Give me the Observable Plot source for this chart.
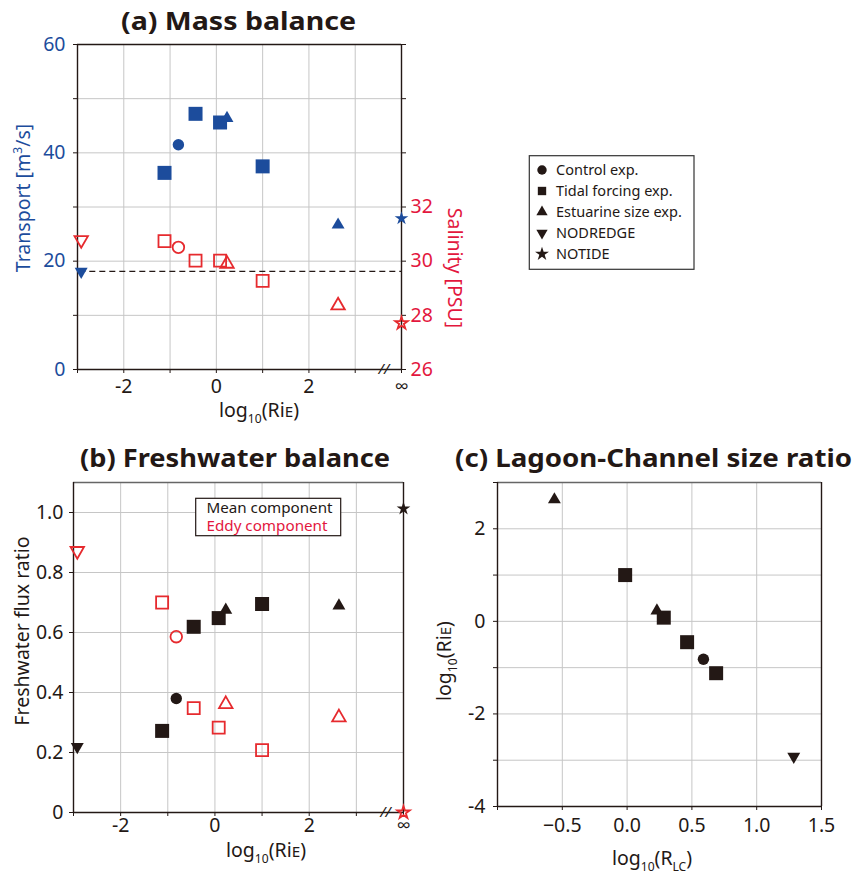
<!DOCTYPE html>
<html><head><meta charset="utf-8">
<script src="https://cdn.jsdelivr.net/npm/d3@7"></script>
<script src="https://cdn.jsdelivr.net/npm/@observablehq/plot@0.6"></script>
<style>
body{margin:0;background:#fff;}
#wrap{position:relative;width:861px;height:878px;background:#fff;overflow:hidden;}
#wrap svg{position:absolute;}
</style></head><body><div id="wrap"></div>
<script>
// ---------------- data ----------------
const experiments = ["NODREDGE","Tidal forcing exp.","Control exp.","Tidal forcing exp.","Tidal forcing exp.","Estuarine size exp.","Tidal forcing exp.","Estuarine size exp.","NOTIDE"];
const logRiE    = [-2.92, -1.12, -0.82, -0.45, 0.08, 0.23, 1.0, 2.63, Infinity];
const transport = [18.1, 36.3, 41.5, 47.2, 45.6, 46.4, 37.5, 26.7, 27.9];
const salinity  = [30.78, 30.74, 30.51, 30.02, 30.02, 29.90, 29.27, 28.36, 27.71];
const meanFlux  = [0.219, 0.272, 0.38, 0.619, 0.648, 0.675, 0.695, 0.689, 1.013];
const eddyFlux  = [0.872, 0.70, 0.586, 0.348, 0.283, 0.361, 0.208, 0.317, 0.0];
const logRLC    = [1.286, 0.687, 0.589, 0.463, 0.283, 0.23, -0.015, -0.561, null];
const dashedTransport = [18.1];
const legendNames = ["Control exp.","Tidal forcing exp.","Estuarine size exp.","NODREDGE","NOTIDE"];
const fluxLegend = ["Mean component","Eddy component"];
const infPos = 4; // position of "∞" on the log10(RiE) axis
const ticksRiE = [-3,-2,-1,0,1,2,3,4];
const ticksTransport = [0,10,20,30,40,50,60];
const ticksSalinity = [26,28,30,32,34,36,38];
const ticksFlux = [0,0.2,0.4,0.6,0.8,1.0];
const ticksRLC = [-1,-0.5,0,0.5,1.0,1.5];
const ticksRiEc = [-4,-3,-2,-1,0,1,2,3];

// ---------------- styles ----------------
const BLUE = "#1c4c9c", RED = "#e62a2e", REDTXT = "#e3173e", BLK = "#231815", GRID = "#c6c6c6";
const FONT = "'Noto Sans', 'Open Sans', sans-serif";
const TICKFS = 19.5;
const sq3 = Math.sqrt(3);
const downTriangle = {draw(ctx, size) {
  const y = -Math.sqrt(size / (sq3 * 3));
  ctx.moveTo(0, -y * 2); ctx.lineTo(-sq3 * y, y); ctx.lineTo(sq3 * y, y); ctx.closePath();
}};
const symbolOf = {"Control exp.":"circle","Tidal forcing exp.":"square","Estuarine size exp.":"triangle","NODREDGE":downTriangle,"NOTIDE":"star"};
const rFill = {"Control exp.":5.7,"Tidal forcing exp.":7.9,"Estuarine size exp.":4.8,"NODREDGE":4.8,"NOTIDE":4.3};
const rOpen = {"Control exp.":5.8,"Tidal forcing exp.":6.8,"Estuarine size exp.":5.0,"NODREDGE":5.0,"NOTIDE":3.9};

const rows = experiments.map((e, i) => ({
  exp: e,
  rie: isFinite(logRiE[i]) ? logRiE[i] : infPos,
  rieFinite: isFinite(logRiE[i]) ? logRiE[i] : null,
  transport: transport[i], salinity: salinity[i],
  mean: meanFlux[i], eddy: eddyFlux[i], rlc: logRLC[i]
}));

function dots(data, xk, yk, color, open) {
  return legendNames.map(g => Plot.dot(
    data.filter(d => d.exp === g && d[xk] != null && d[yk] != null),
    {x: xk, y: yk, symbol: symbolOf[g], r: open ? rOpen[g] : rFill[g],
     fill: open ? "none" : color, stroke: open ? color : "none", strokeWidth: open ? 1.8 : 0}));
}

const wrap = document.getElementById("wrap");
function place(svg, left, top, transparent) {
  svg.style.left = left + "px"; svg.style.top = top + "px";
  svg.style.maxWidth = "none";
  if (transparent) svg.style.background = "transparent";
  wrap.appendChild(svg);
  return d3.select(svg);
}
function label(sel, {x, y, rotate = 0, anchor = "middle", fill = BLK, size = 19.5, weight = "normal", parts, textLength}) {
  const t = sel.append("text")
    .attr("transform", `translate(${x},${y}) rotate(${rotate})`)
    .attr("text-anchor", anchor).attr("fill", fill)
    .attr("font-family", FONT).attr("font-size", size).attr("font-weight", weight);
  if (textLength) t.attr("textLength", textLength).attr("lengthAdjust", "spacingAndGlyphs");
  let shift = 0;
  for (const [s, kind] of parts) {
    const ts = t.append("tspan").text(s);
    let target = 0, fs = size;
    if (kind === "sub") { target = size * 0.32; fs = size * 0.62; }
    if (kind === "sup") { target = -size * 0.4; fs = size * 0.62; }
    if (kind === "small") { fs = size * 0.78; }
    ts.attr("font-size", fs).attr("dy", target - shift);
    shift = target;
  }
  return t;
}
const fmtRiE = d => d === infPos ? "∞" : (d % 2 === 0 ? String(d) : "");
const riELabel = [["log", null], ["10", "sub"], ["(Ri", null], ["E", "small"], [")", null]];

// ================= Panel (a) =================
const baseA = {width: 480, height: 434, marginLeft: 77, marginRight: 79, marginTop: 44, marginBottom: 65,
  style: {fontFamily: FONT, fontSize: "19px"}};
const plotA = Plot.plot({...baseA, x: {domain: [-3, 4]}, y: {domain: [0, 60]},
  marks: [
    Plot.gridX([-2,-1,0,1,2,3], {stroke: GRID, strokeOpacity: 1}),
    Plot.gridY([10,20,30,40,50], {stroke: GRID, strokeOpacity: 1}),
    Plot.axisY(ticksTransport, {tickSize: 4, tickPadding: 8, stroke: BLK, fill: BLUE, label: null, fontSize: TICKFS,
      tickFormat: d => d % 20 === 0 ? d : ""}),
    Plot.axisX(ticksRiE, {tickSize: 4, tickPadding: 6, stroke: BLK, fill: BLK, label: null, fontSize: TICKFS, tickFormat: fmtRiE}),
    Plot.ruleY([0, 60], {stroke: BLK, strokeWidth: 1.4}),
    Plot.ruleX([-3, 4], {stroke: BLK, strokeWidth: 1.4}),
    Plot.text(["//"], {x: 3.62, y: 0, text: d => d, fontSize: 15, fill: BLK, fontStyle: "italic"}),
    Plot.ruleY(dashedTransport, {x1: -2.95, x2: 4, stroke: BLK, strokeWidth: 1.2, strokeDasharray: "6,4"}),
    ...dots(rows, "rie", "transport", BLUE, false)
  ]});
const sA = place(plotA, 0, 0, false);
const plotA2 = Plot.plot({...baseA, x: {domain: [-3, 4], axis: null}, y: {domain: [26, 38]},
  marks: [
    Plot.axisY(ticksSalinity, {anchor: "right", tickSize: 4, tickPadding: 5, stroke: BLK, fill: REDTXT, label: null, fontSize: TICKFS,
      tickFormat: d => d <= 32 ? d : ""}),
    ...dots(rows, "rie", "salinity", RED, true)
  ]});
place(plotA2, 0, 0, true);
label(sA, {x: 238.5, y: 30, size: 25, weight: "bold", parts: [["(a) Mass balance", null]], textLength: 235});
label(sA, {x: 259, y: 416.5, parts: riELabel});
label(sA, {x: 30, y: 198, rotate: -90, fill: BLUE, parts: [["Transport [m", null], ["3", "sup"], ["/s]", null]]});
label(sA, {x: 448, y: 268, rotate: 90, fill: REDTXT, parts: [["Salinity [PSU]", null]]});

// ================= Panel (b) =================
const plotB = Plot.plot({width: 430, height: 438, marginLeft: 73, marginRight: 27, marginTop: 42, marginBottom: 66,
  style: {fontFamily: FONT, fontSize: "19px"}, x: {domain: [-3, 4]}, y: {domain: [0, 1.1]},
  marks: [
    Plot.gridX([-2,-1,0,1,2,3], {stroke: GRID, strokeOpacity: 1}),
    Plot.gridY([0.2,0.4,0.6,0.8,1.0], {stroke: GRID, strokeOpacity: 1}),
    Plot.axisY(ticksFlux, {tickSize: 4, tickPadding: 6, stroke: BLK, fill: BLK, label: null, fontSize: TICKFS,
      tickFormat: d => d === 0 ? "0" : d3.format(".1f")(d)}),
    Plot.axisX(ticksRiE, {tickSize: 4, tickPadding: 2, stroke: BLK, fill: BLK, label: null, fontSize: TICKFS, tickFormat: fmtRiE}),
    Plot.ruleY([1.1], {stroke: "#666", strokeWidth: 1.4}),
    Plot.ruleY([0], {stroke: BLK, strokeWidth: 1.4}),
    Plot.ruleX([-3, 4], {stroke: BLK, strokeWidth: 1.4}),
    Plot.text(["//"], {x: 3.62, y: 0, text: d => d, fontSize: 15, fill: BLK, fontStyle: "italic"}),
    ...dots(rows, "rie", "mean", BLK, false),
    ...dots(rows, "rie", "eddy", RED, true)
  ]});
const sB = place(plotB, 0, 440, false);
label(sB, {x: 235, y: 26.7, size: 25, weight: "bold", parts: [["(b) Freshwater balance", null]], textLength: 310});
label(sB, {x: 266, y: 416.5, parts: riELabel});
label(sB, {x: 29, y: 191, rotate: -90, parts: [["Freshwater flux ratio", null]]});
// in-panel legend
sB.append("rect").attr("x", 195.7).attr("y", 58.3).attr("width", 145).attr("height", 37.4)
  .attr("fill", "white").attr("stroke", BLK).attr("stroke-width", 1.2);
fluxLegend.forEach((t, i) => label(sB, {x: 206.5, y: 73.3 + i * 17.5, anchor: "start", size: 14.5,
  fill: i === 0 ? BLK : REDTXT, parts: [[t, null]], textLength: i === 0 ? 126 : 121}));

// ================= Panel (c) =================
const plotC = Plot.plot({width: 431, height: 438, marginLeft: 67, marginRight: 40, marginTop: 42, marginBottom: 72,
  style: {fontFamily: FONT, fontSize: "19px"}, x: {domain: [-1, 1.5]}, y: {domain: [-4, 3]},
  marks: [
    Plot.gridX([-0.5, 0, 0.5, 1.0], {stroke: GRID, strokeOpacity: 1}),
    Plot.gridY([-3,-2,-1,0,1,2], {stroke: GRID, strokeOpacity: 1}),
    Plot.axisY(ticksRiEc, {tickSize: 4, tickPadding: 8, stroke: BLK, fill: BLK, label: null, fontSize: TICKFS,
      tickFormat: d => d % 2 === 0 && d < 3 ? d : ""}),
    Plot.axisX(ticksRLC, {tickSize: 4, tickPadding: 8, stroke: BLK, fill: BLK, label: null, fontSize: TICKFS,
      tickFormat: d => d === -1 ? "" : d3.format(".1f")(d)}),
    Plot.ruleY([3], {stroke: "#666", strokeWidth: 1.4}),
    Plot.ruleY([-4], {stroke: BLK, strokeWidth: 1.4}),
    Plot.ruleX([-1, 1.5], {stroke: BLK, strokeWidth: 1.4}),
    ...dots(rows, "rlc", "rieFinite", BLK, false)
  ]});
const sC = place(plotC, 430, 440, false);
label(sC, {x: 223.5, y: 27, size: 25, weight: "bold", parts: [["(c) Lagoon-Channel size ratio", null]], textLength: 397});
label(sC, {x: 222, y: 425, parts: [["log", null], ["10", "sub"], ["(R", null], ["LC", "sub"], [")", null]]});
label(sC, {x: 21, y: 221, rotate: -90, parts: riELabel});

// ================= main legend =================
const leg = d3.create("svg").attr("width", 170).attr("height", 118)
  .attr("viewBox", "0 0 170 118").style("left", "527px").style("top", "154px");
leg.append("rect").attr("x", 2.3).attr("y", 1.7).attr("width", 164.7).attr("height", 113.6)
  .attr("fill", "white").attr("stroke", "#333").attr("stroke-width", 1.2);
const legSyms = [d3.symbolCircle, d3.symbolSquare, d3.symbolTriangle, downTriangle, d3.symbolStar];
const legSize = [70, 70, 55, 55, 60];
legendNames.forEach((n, i) => {
  const y = 16 + i * 21;
  leg.append("path").attr("d", d3.symbol(legSyms[i], legSize[i])())
    .attr("transform", `translate(15,${y})`).attr("fill", BLK);
  leg.append("text").attr("x", 29).attr("y", y + 5).attr("font-family", FONT).attr("font-size", 14.5)
    .attr("fill", BLK).text(n);
});
wrap.appendChild(leg.node());
</script></body></html>
